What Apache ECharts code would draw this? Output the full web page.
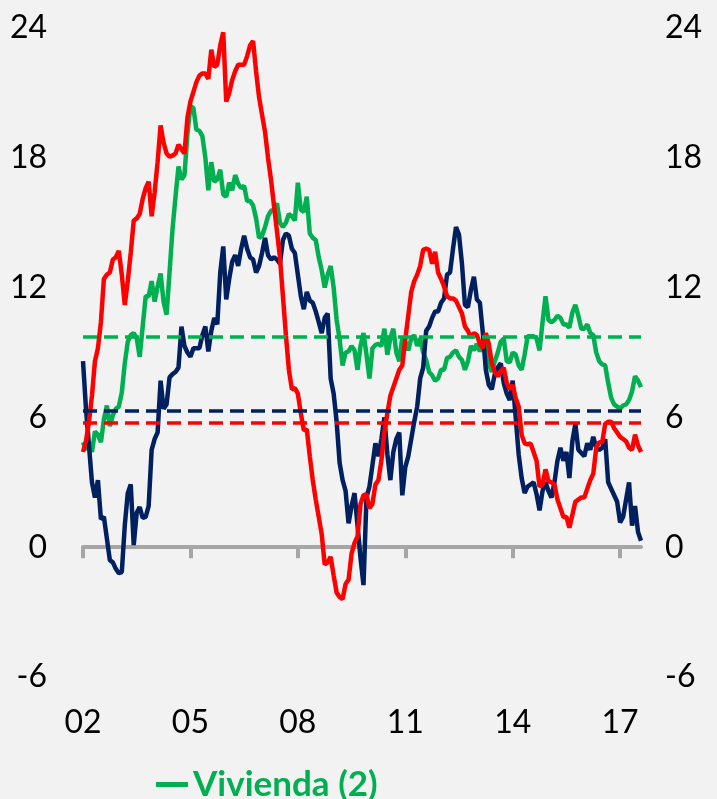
<!DOCTYPE html>
<html>
<head>
<meta charset="utf-8">
<script src="https://cdn.jsdelivr.net/npm/echarts@6/dist/echarts.min.js"></script>
<style>
  html, body { margin: 0; padding: 0; background: #f2f2f2; }
  #chart { width: 717px; height: 799px; }
</style>
</head>
<body>
<div id="chart"></div>
<script>
// monthly, Jan 2002 .. Aug 2017 (188 months)
var months = [];
for (var y = 2002; y <= 2017; y++) {
  for (var m = 1; m <= 12; m++) {
    if (months.length < 188) months.push(y + '-' + (m < 10 ? '0' : '') + m);
  }
}

var navyVals = [
  8.6, 6.4, 4.7, 3.0, 2.3, 3.1, 1.3, 1.4, 0.4, -0.6,
  -0.7, -1.0, -1.2, -1.15, 1.0, 2.5, 2.9, 0.1, 1.6, 1.85,
  1.35, 1.4, 1.9, 4.5, 5.0, 5.3, 7.7, 6.4, 6.6, 7.85,
  8.0, 8.1, 8.3, 10.2, 9.3, 9.0, 8.8, 9.2, 9.2, 9.2,
  9.8, 10.2, 9.05, 10.0, 10.6, 10.3, 12.7, 13.9, 11.45, 12.4,
  13.2, 13.5, 13.0, 13.8, 14.4, 13.8, 13.4, 13.3, 12.7, 13.0,
  13.6, 14.3, 13.5, 13.3, 13.4, 13.3, 13.1, 14.2, 14.5, 14.4,
  13.8, 13.6, 12.6, 11.6, 11.0, 11.8, 11.4, 11.3, 10.9, 10.4,
  9.9, 10.6, 10.8, 7.8, 7.1, 5.8, 3.9, 3.1, 2.6, 1.1,
  1.9, 2.5, 1.0, -0.5, -1.75, 2.3, 2.8, 3.8, 4.8, 4.2,
  5.0, 6.0, 4.3, 3.1, 4.4, 5.0, 5.3, 2.4, 3.7, 4.2,
  5.0, 5.8, 6.5, 7.8, 8.3, 10.0, 10.2, 10.6, 10.9, 10.9,
  11.3, 11.5, 12.6, 12.7, 13.8, 14.8, 14.45, 13.1, 11.2, 11.1,
  11.9, 12.5, 11.45, 11.3, 9.9, 8.2, 7.5, 7.3, 8.0, 8.3,
  8.5, 7.6, 7.1, 6.8, 7.7, 6.0, 4.3, 3.2, 2.5, 2.8,
  2.9, 3.0, 2.45, 1.7, 2.6, 3.0, 2.6, 2.3, 3.0, 4.0,
  4.6, 4.0, 4.4, 3.2, 4.9, 5.7, 4.5, 4.35, 4.2, 4.8,
  4.5, 5.1, 4.6, 4.5, 4.6, 5.0, 3.0, 2.7, 2.4, 2.1,
  1.15, 1.4, 2.2, 3.0, 1.0, 1.9, 0.7, 0.3
];

var redVals = [
  4.4, 4.9, 5.8, 7.0, 8.6, 9.2, 10.4, 12.4, 12.6, 12.7,
  13.3, 13.4, 13.7, 12.6, 11.2, 12.3, 13.6, 15.1, 15.2, 15.4,
  16.1, 16.6, 16.9, 15.3, 16.4, 17.8, 19.5, 18.7, 18.2, 18.05,
  18.1, 18.2, 18.6, 18.4, 18.2, 19.85, 20.6, 21.05, 21.5, 21.8,
  21.9, 21.9, 21.65, 23.0, 22.2, 22.3, 23.2, 23.8, 20.6, 21.0,
  21.6, 22.0, 22.3, 22.3, 22.3, 22.7, 23.2, 23.4, 22.0, 20.8,
  20.0, 19.2, 18.0, 17.0, 15.8, 14.6, 13.4, 11.6, 9.8, 8.2,
  7.3, 7.35, 7.1, 6.2, 5.4, 5.45, 4.2, 3.1, 2.2, 1.4,
  0.6, -0.8, -0.7, -0.45, -1.3, -2.1, -2.3, -2.4, -1.7, -1.5,
  -0.3, 0.2, 0.5, 2.0, 2.4, 2.45, 1.8, 2.0, 2.9, 3.1,
  4.0, 5.3, 6.2, 7.0, 7.4, 7.8, 8.2, 8.4, 9.6, 10.7,
  11.8, 12.3, 12.6, 13.0, 13.75, 13.8, 13.75, 13.1, 13.65, 12.7,
  12.4, 12.05, 11.6, 11.5, 11.5, 11.4, 11.1, 10.8, 10.2, 10.0,
  9.7, 9.9, 9.8, 9.4, 9.2, 9.9, 9.4, 8.5, 8.1, 7.9,
  8.1, 8.3, 7.6, 7.3, 7.5, 6.9, 6.5, 5.2, 4.8, 4.75,
  4.8, 4.4, 4.0, 2.8, 2.9, 3.6, 3.05, 3.0, 2.9, 2.2,
  1.8, 1.4, 1.4, 0.9, 1.5, 2.1, 2.2, 2.3, 2.3, 2.7,
  3.1, 3.4, 4.6, 4.85, 4.85, 5.7, 5.8, 5.8, 5.5, 5.3,
  5.1, 5.0, 4.9, 4.6, 4.5, 5.2, 4.7, 4.4
];

var greenVals = [
  4.85, 4.5, 4.85, 4.4, 5.35, 5.2, 4.85, 5.9, 6.55, 5.6,
  6.1, 6.4, 6.5, 7.15, 8.5, 9.5, 9.8, 9.9, 9.65, 8.8,
  10.2, 11.6, 11.6, 12.3, 11.35, 12.05, 12.65, 11.35, 10.75, 12.7,
  14.7, 16.2, 17.6, 17.0, 17.2, 19.1, 20.4, 20.3, 19.3, 19.25,
  19.0, 18.0, 16.5, 17.8, 16.9, 17.0, 17.45, 16.3, 16.2, 16.85,
  16.5, 17.2, 16.8, 16.6, 16.7, 16.0, 16.0, 15.8, 15.2, 14.3,
  14.4, 14.8, 15.3, 15.55, 15.6, 15.9, 15.0, 14.8, 15.0, 15.4,
  15.3, 15.1, 16.85, 15.6, 15.5, 16.2, 14.5, 14.3, 14.2, 13.4,
  12.8, 12.0, 12.6, 13.0, 12.0, 10.5, 9.6, 8.4, 9.0, 9.05,
  9.3, 9.1, 8.2, 9.3, 9.9, 8.9, 7.8, 9.2, 9.35, 9.4,
  9.3, 10.1, 8.9, 9.65, 10.1, 9.0, 8.6, 9.7, 9.5, 9.1,
  9.65, 9.8, 9.3, 9.65, 9.0, 8.65, 8.1, 7.95, 7.7, 7.8,
  8.2, 8.2, 8.75, 8.8, 9.0, 9.1, 8.8, 8.65, 8.2, 8.6,
  9.3, 9.1, 9.4, 9.05, 9.4, 9.6, 8.45, 8.1, 8.6, 9.0,
  9.5, 9.65, 8.6, 8.55, 9.0, 8.9, 8.4, 8.2, 8.9, 9.75,
  9.75, 9.75, 9.65, 9.1, 10.4, 11.6, 10.5, 10.4, 10.5, 10.7,
  10.6, 10.3, 10.3, 10.15, 10.85, 11.2, 10.7, 10.1, 10.1, 10.3,
  9.9, 9.8, 9.0, 8.6, 8.45, 8.4, 7.6, 6.9, 6.6, 6.5,
  6.4, 6.55, 6.6, 6.8, 7.2, 7.9, 7.7, 7.4
];

// promedios (lineas discontinuas)
var navyAvg = 6.3;
var redAvg = 5.75;
var greenAvg = 9.75;

var NAVY = '#002060', RED = '#ff0000', GREEN = '#00b050', GREY = '#a6a6a6';
var FONT = 'Lato';

function everyThreeYears(idx) { return idx % 36 === 0; }

function avgLine(val, color) {
  return {
    symbol: 'none',
    silent: true,
    label: { show: false },
    lineStyle: { type: [14, 7], width: 3.5, color: color },
    data: [{ yAxis: val }]
  };
}

var chart = echarts.init(document.getElementById('chart'));

var option = {
  backgroundColor: '#f2f2f2',
  animation: false,
  textStyle: { fontFamily: FONT },
  grid: { left: 83, right: 76, top: 28, bottom: 122 },
  legend: {
    data: ['Vivienda (2)'],
    left: 156,
    top: 767,
    padding: 0,
    icon: 'rect',
    itemWidth: 32,
    itemHeight: 5,
    textStyle: { color: GREEN, fontWeight: 'bold', fontSize: 35, fontFamily: FONT }
  },
  xAxis: [
    {
      type: 'category',
      data: months,
      boundaryGap: false,
      axisLine: { onZero: true, onZeroAxisIndex: 0, lineStyle: { color: GREY, width: 4 } },
      axisTick: { show: true, interval: everyThreeYears, length: 11, lineStyle: { color: GREY, width: 4 } },
      axisLabel: { show: false },
      splitLine: { show: false }
    },
    {
      type: 'category',
      data: months,
      boundaryGap: false,
      position: 'bottom',
      axisLine: { show: false, onZero: false },
      axisTick: { show: false },
      axisLabel: {
        interval: everyThreeYears,
        formatter: function (v) { return v.substr(2, 2); },
        color: '#000', fontSize: 32, fontFamily: FONT, margin: 30
      },
      splitLine: { show: false }
    }
  ],
  yAxis: [
    {
      type: 'value', min: -6, max: 24, interval: 6, position: 'left',
      axisLine: { show: false }, axisTick: { show: false }, splitLine: { show: false },
      axisLabel: { color: '#000', fontSize: 32, fontFamily: FONT, margin: 36 }
    },
    {
      type: 'value', min: -6, max: 24, interval: 6, position: 'right',
      axisLine: { show: false }, axisTick: { show: false }, splitLine: { show: false },
      axisLabel: { color: '#000', fontSize: 32, fontFamily: FONT, margin: 24 }
    }
  ],
  series: [
    {
      name: 'Vivienda (2)', type: 'line', data: greenVals,
      showSymbol: false, color: GREEN,
      lineStyle: { width: 4.5, color: GREEN },
      markLine: avgLine(greenAvg, GREEN)
    },
    {
      name: 'Total (1)', type: 'line', data: navyVals,
      showSymbol: false, color: NAVY,
      lineStyle: { width: 4.5, color: NAVY },
      markLine: avgLine(navyAvg, NAVY)
    },
    {
      name: 'Consumo (3)', type: 'line', data: redVals,
      showSymbol: false, color: RED,
      lineStyle: { width: 4.5, color: RED },
      markLine: avgLine(redAvg, RED)
    }
  ]
};

chart.setOption(option);
</script>
</body>
</html>
